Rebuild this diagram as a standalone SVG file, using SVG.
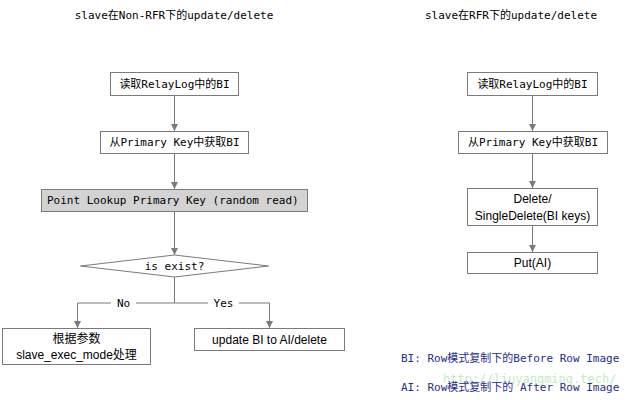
<svg xmlns="http://www.w3.org/2000/svg" width="628" height="400" viewBox="0 0 628 400">
<style>
.box{fill:#fff;stroke:#7a7a7a;stroke-width:1}
.gbox{fill:#d3d3d3;stroke:#7a7a7a;stroke-width:1}
.mono{font-family:"DejaVu Sans Mono","Liberation Mono","Noto Sans CJK SC",monospace;font-size:11px;fill:#000}
.sans{font-family:"Liberation Sans","Noto Sans CJK SC",sans-serif;font-size:12px;fill:#000}
.leg{font-family:"DejaVu Sans Mono","Liberation Mono","Noto Sans CJK SC",monospace;font-size:11px;fill:#1f2d8a}
.conn{stroke:#7a7a7a;stroke-width:1;fill:none}
.mid{text-anchor:middle}
</style>
<defs>
<marker id="ah" viewBox="0 0 10 10" refX="10" refY="5" markerWidth="7" markerHeight="7" markerUnits="userSpaceOnUse" orient="auto">
<path d="M0,0 L10,5 L0,10 z" fill="#7a7a7a"/>
</marker>
</defs>
<rect width="628" height="400" fill="#fff"/>
<text class="mono mid" x="174" y="19">slave在Non-RFR下的update/delete</text>
<text class="mono mid" x="511" y="19">slave在RFR下的update/delete</text>

<g id="connectors">
<line class="conn" x1="174.5" y1="95" x2="174.5" y2="131" marker-end="url(#ah)"/>
<line class="conn" x1="174.5" y1="153" x2="174.5" y2="189" marker-end="url(#ah)"/>
<line class="conn" x1="174.5" y1="211" x2="174.5" y2="255" marker-end="url(#ah)"/>
<polyline class="conn" points="174.5,277 174.5,303 77.5,303 77.5,328" marker-end="url(#ah)"/>
<polyline class="conn" points="174.5,303 269.5,303 269.5,328" marker-end="url(#ah)"/>
<rect x="111" y="296" width="25" height="14" fill="#fff"/>
<rect x="208" y="296" width="31" height="14" fill="#fff"/>
<text class="mono mid" x="123.5" y="307">No</text>
<text class="mono mid" x="223.5" y="307">Yes</text>
<line class="conn" x1="532.5" y1="95" x2="532.5" y2="131" marker-end="url(#ah)"/>
<line class="conn" x1="532.5" y1="153" x2="532.5" y2="188" marker-end="url(#ah)"/>
<line class="conn" x1="532.5" y1="225" x2="532.5" y2="252" marker-end="url(#ah)"/>
</g>

<g id="n1"><rect class="box" x="110.5" y="72.5" width="128" height="23"/><text class="mono mid" x="174.5" y="88">读取RelayLog中的BI</text></g>
<g id="n2"><rect class="box" x="100.5" y="131.5" width="148" height="22"/><text class="mono mid" x="174.5" y="146">从Primary Key中获取BI</text></g>
<g id="n3"><rect class="gbox" x="41.5" y="189.5" width="266" height="22"/><text class="mono" x="47" y="204">Point Lookup Primary Key (random read)</text></g>
<g id="n4"><polygon class="box" points="80.5,266 174.5,255 268.5,266 174.5,277"/><text class="mono mid" x="174.5" y="270">is exist?</text></g>
<g id="n5"><rect class="box" x="2.5" y="328.5" width="148" height="36"/><text class="sans mid" x="76.5" y="343">根据参数</text><text class="sans mid" x="76.5" y="359">slave_exec_mode处理</text></g>
<g id="n6"><rect class="box" x="194.5" y="328.5" width="150" height="22"/><text class="sans mid" x="269.5" y="344">update BI to AI/delete</text></g>

<g id="r1"><rect class="box" x="467.5" y="72.5" width="130" height="23"/><text class="mono mid" x="532.5" y="88">读取RelayLog中的BI</text></g>
<g id="r2"><rect class="box" x="458.5" y="131.5" width="149" height="22"/><text class="mono mid" x="533" y="146">从Primary Key中获取BI</text></g>
<g id="r3"><rect class="box" x="467.5" y="188.5" width="130" height="37"/><text class="sans mid" x="532.5" y="203">Delete/</text><text class="sans mid" x="532.5" y="220">SingleDelete(BI keys)</text></g>
<g id="r4"><rect class="box" x="467.5" y="252.5" width="130" height="21"/><text class="sans mid" x="532.5" y="267">Put(AI)</text></g>

<text class="leg" x="401" y="362">BI: Row模式复制下的Before Row Image</text>
<text x="443" y="383" font-family="DejaVu Sans Mono,monospace" font-size="12" fill="#8fdc8f" opacity="0.55">http://liuyangming.tech/</text>
<text class="leg" x="401" y="391">AI: Row模式复制下的 After Row Image</text>
</svg>
